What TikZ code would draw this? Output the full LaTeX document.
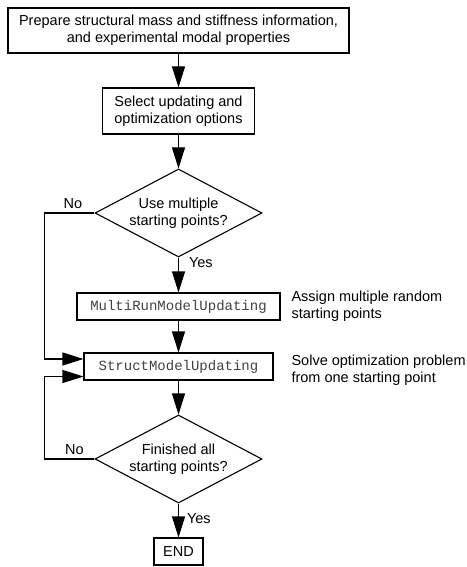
\documentclass[tikz,border=0pt]{standalone}
\usepackage{fontspec}
\setmainfont{Liberation Sans}
\setmonofont{Liberation Mono}
\usetikzlibrary{shapes.geometric,arrows.meta}

\begin{document}
\begin{tikzpicture}[x=1pt, y=-1pt, line width=1.1pt,
        font=\fontsize{14.5}{17}\selectfont,
        box/.style={draw, rectangle, align=center, inner sep=0pt},
        code/.style={box, text=black!75, font=\fontsize{14}{17}\ttfamily},
        choice/.style={draw, diamond, align=center, aspect=1.9, inner sep=0pt,
            minimum width=167pt, minimum height=88pt},
        flow/.style={-{Triangle[length=21pt, width=13pt]}},
        note/.style={align=left, anchor=west, inner sep=0pt}]
    \useasboundingbox (0,0) rectangle (466,567);
    \node[box, minimum width=341pt, minimum height=45pt] (prep) at (178.5,30.5)
        {Prepare structural mass and stiffness information,\\and experimental modal properties};
    \node[box, minimum width=152pt, minimum height=46pt] (select) at (178.5,111)
        {Select updating and\\optimization options};
    \node[choice] (multi) at (178.5,213) {Use multiple\\starting points?};
    \node[code, minimum width=203pt, minimum height=27pt] (multirun) at (178.5,306.5)
        {MultiRunModelUpdating};
    \node[note] (assign) at (291,306.5) {Assign multiple random\\starting points};
    \node[code, minimum width=189pt, minimum height=27pt] (struct) at (178.5,366.5)
        {StructModelUpdating};
    \node[note] (solve) at (291,370) {Solve optimization problem\\from one starting point};
    \node[choice] (finished) at (178.5,459) {Finished all\\starting points?};
    \node[box, minimum width=49pt, minimum height=27pt] (end) at (178.5,551.5) {END};

    \draw[flow] (prep) -- (select);
    \draw[flow] (select) -- (multi);
    \draw[flow] (multi) -- node[pos=0.15, right=10pt, inner sep=0pt] {Yes} (multirun);
    \draw[flow] (multirun) -- (struct);
    \draw[flow] (struct) -- (finished);
    \draw[flow] (finished) -- node[pos=0.43, right=8pt, inner sep=0pt] {Yes} (end);
    \draw[flow] (multi.west) -- node[pos=0.43, above] {No} ++(-50,0) |- ([yshift=7.5pt]struct.west);
    \draw[flow] (finished.west) -- node[pos=0.4, above] {No} ++(-50,0) |- ([yshift=-10pt]struct.west);
\end{tikzpicture}
\end{document}
